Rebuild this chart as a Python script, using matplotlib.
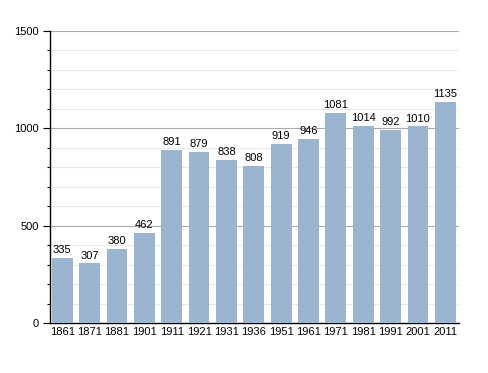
import matplotlib
matplotlib.use("Agg")
import matplotlib.pyplot as plt
from matplotlib.ticker import MultipleLocator

plt.rcParams["font.family"] = ["Liberation Sans", "DejaVu Sans"]

years = ["1861", "1871", "1881", "1901", "1911", "1921", "1931", "1936",
         "1951", "1961", "1971", "1981", "1991", "2001", "2011"]
population = [335, 307, 380, 462, 891, 879, 838, 808,
              919, 946, 1081, 1014, 992, 1010, 1135]

bar_color = "#9bb4d0"

fig = plt.figure(figsize=(4.88, 3.73), dpi=100)
ax = fig.add_axes([0.1025, 0.134, 0.838, 0.783])

x = list(range(len(years)))
ax.bar(x, population, width=0.76, color=bar_color, zorder=3)
for xi, v in zip(x, population):
    ax.text(xi, v + 14, str(v), ha="center", va="bottom", fontsize=8, zorder=4)

ax.set_xlim(-0.45, 14.5)
ax.set_ylim(0, 1500)
ax.yaxis.set_major_locator(MultipleLocator(500))
ax.yaxis.set_minor_locator(MultipleLocator(100))
ax.grid(axis="y", which="major", color="#aaaaaa", linewidth=0.8, zorder=1)
ax.grid(axis="y", which="minor", color="#e8e8e8", linewidth=0.8, zorder=1)

ax.set_xticks(x)
ax.set_xticklabels(years, fontsize=8)
ax.tick_params(axis="x", length=0, pad=3)
ax.tick_params(axis="y", which="major", length=5, width=0.8, labelsize=8, pad=3)
ax.tick_params(axis="y", which="minor", length=2.5, width=0.8)

for s in ["top", "right"]:
    ax.spines[s].set_visible(False)
ax.spines["left"].set_linewidth(1)
ax.spines["bottom"].set_linewidth(1)

fig.savefig("out.png", dpi=100)
